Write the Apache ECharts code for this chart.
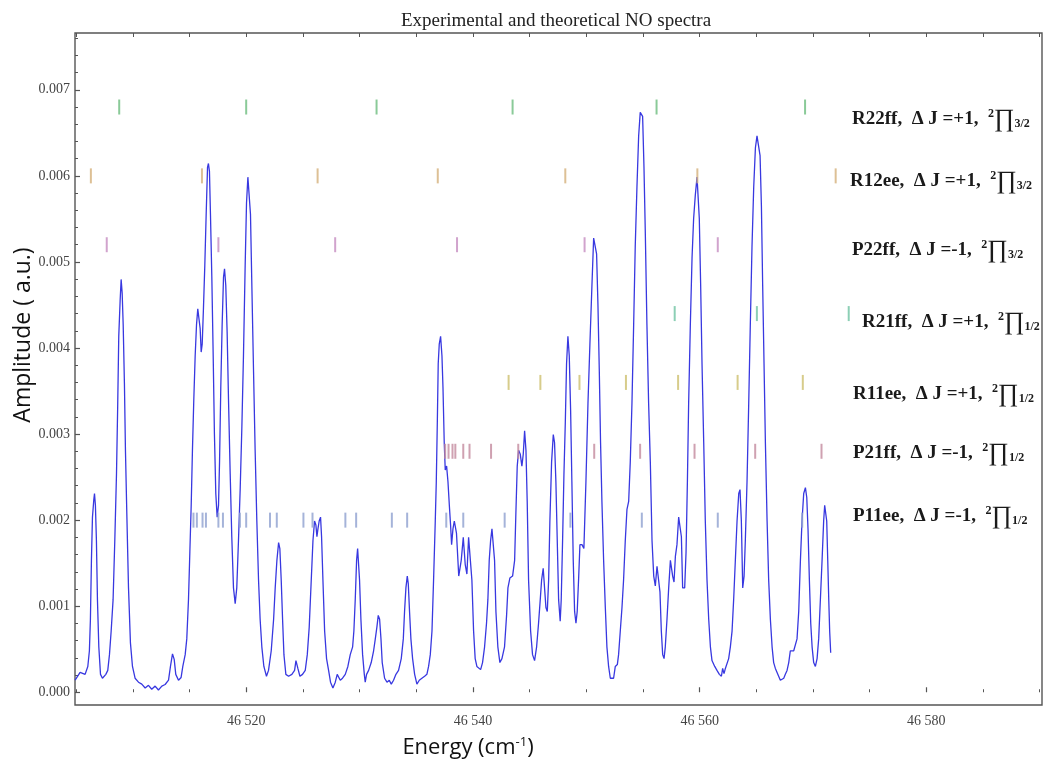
<!DOCTYPE html>
<html>
<head>
<meta charset="utf-8">
<script src="https://cdn.jsdelivr.net/npm/echarts@6/dist/echarts.min.js"></script>
<style>html,body{margin:0;padding:0;background:#fff}#c{width:1047px;height:765px}</style>
</head>
<body>
<div id="c"></div>
<script>
// ---------- DATA ----------
const chartTitle = 'Experimental and theoretical NO spectra';
const xAxisTitle = ['Energy (cm', '-1', ')'];
const yAxisTitle = 'Amplitude ( a.u.)';

const xTickLabels = [46520, 46540, 46560, 46580];
const yTickLabels = [0, 0.001, 0.002, 0.003, 0.004, 0.005, 0.006, 0.007];

// experimental spectrum [energy (cm-1), amplitude (a.u.)]
const spectrumPoints = [
[46504.91,0.000140],[46505.35,0.000231],[46505.79,0.000208],[46506.03,0.000300],[46506.17,0.000482],[46506.26,0.000848],[46506.35,0.001533],[46506.44,0.002035],[46506.56,0.002240],[46506.62,0.002309],[46506.70,0.002172],[46506.79,0.001761],[46506.88,0.001076],[46507.00,0.000528],[46507.15,0.000208],[46507.32,0.000163],[46507.62,0.000208],[46507.79,0.000254],[46507.94,0.000437],[46508.09,0.000711],[46508.26,0.001076],[46508.41,0.001761],[46508.56,0.002537],[46508.67,0.003359],[46508.76,0.004135],[46508.88,0.004546],[46508.97,0.004797],[46509.06,0.004638],[46509.15,0.004272],[46509.26,0.003587],[46509.35,0.002811],[46509.47,0.002081],[46509.62,0.001213],[46509.79,0.000574],[46509.97,0.000300],
[46510.20,0.000163],[46510.50,0.000117],[46510.79,0.000094],[46511.09,0.000049],[46511.38,0.000081],[46511.67,0.000035],[46511.97,0.000072],[46512.26,0.000026],[46512.56,0.000072],[46512.85,0.000090],[46513.15,0.000140],[46513.32,0.000300],[46513.50,0.000446],[46513.65,0.000382],[46513.79,0.000208],[46514.03,0.000140],[46514.26,0.000172],[46514.41,0.000300],[46514.62,0.000437],[46514.76,0.000620],[46514.91,0.001076],
[46515.03,0.001624],[46515.15,0.002172],[46515.26,0.002811],[46515.38,0.003405],[46515.50,0.003907],[46515.62,0.004272],[46515.73,0.004455],[46515.85,0.004432],[46515.94,0.004227],[46516.03,0.003953],[46516.12,0.004044],[46516.23,0.004455],[46516.35,0.004957],[46516.47,0.005551],[46516.59,0.006099],[46516.67,0.006144],[46516.76,0.006053],[46516.85,0.005551],[46516.97,0.004820],[46517.09,0.003907],[46517.20,0.002994],[46517.32,0.002309],[46517.44,0.002035],[46517.56,0.002172],[46517.65,0.002674],[46517.76,0.003542],[46517.88,0.004272],[46518.00,0.004820],[46518.09,0.004921],[46518.20,0.004729],[46518.32,0.004181],[46518.44,0.003405],[46518.59,0.002537],[46518.73,0.001807],[46518.88,0.001213],[46519.03,0.001030],[46519.17,0.001213],[46519.32,0.001761],[46519.47,0.002355],[46519.62,0.003085],[46519.76,0.003907],[46519.91,0.004957],
[46520.03,0.005688],[46520.15,0.005985],[46520.26,0.006007],[46520.38,0.005551],[46520.50,0.004729],[46520.65,0.003724],[46520.79,0.002811],[46520.94,0.001990],[46521.09,0.001305],[46521.23,0.000848],[46521.38,0.000528],[46521.56,0.000300],[46521.79,0.000186],[46521.97,0.000254],[46522.21,0.000482],[46522.42,0.000848],[46522.56,0.001213],[46522.71,0.001533],[46522.86,0.001738],[46522.97,0.001670],[46523.09,0.001304],[46523.21,0.000848],[46523.33,0.000437],[46523.50,0.000208],[46523.74,0.000186],[46524.03,0.000208],[46524.27,0.000254],[46524.39,0.000368],[46524.47,0.000391],[46524.56,0.000277],[46524.74,0.000186],[46524.97,0.000208],
[46525.21,0.000254],[46525.39,0.000437],[46525.56,0.000757],[46525.74,0.001304],[46525.89,0.001761],[46526.03,0.001990],[46526.15,0.001944],[46526.24,0.001807],[46526.33,0.001898],[46526.44,0.001990],[46526.56,0.002035],[46526.65,0.001807],[46526.77,0.001304],[46526.92,0.000711],[46527.09,0.000391],[46527.27,0.000254],[46527.44,0.000117],[46527.65,0.000049],[46527.86,0.000117],[46528.03,0.000208],[46528.15,0.000186],[46528.30,0.000140],[46528.50,0.000163],[46528.74,0.000208],[46528.97,0.000300],[46529.18,0.000437],[46529.39,0.000528],[46529.50,0.000711],[46529.62,0.001076],[46529.74,0.001533],[46529.83,0.001670],[46529.92,0.001647],
[46530.00,0.001304],[46530.12,0.000848],[46530.27,0.000437],[46530.42,0.000208],[46530.50,0.000117],[46530.62,0.000208],[46530.80,0.000254],[46531.03,0.000345],[46531.24,0.000482],[46531.39,0.000620],[46531.53,0.000757],[46531.65,0.000893],[46531.77,0.000848],[46531.89,0.000620],[46532.00,0.000345],[46532.21,0.000163],[46532.42,0.000117],[46532.62,0.000140],[46532.80,0.000094],[46533.00,0.000140],[46533.21,0.000208],[46533.44,0.000254],[46533.68,0.000391],[46533.86,0.000620],[46533.97,0.000939],[46534.09,0.001213],[46534.21,0.001350],[46534.30,0.001259],[46534.41,0.000939],[46534.53,0.000620],[46534.68,0.000391],[46534.86,0.000208],
[46535.06,0.000094],[46535.27,0.000140],[46535.50,0.000163],[46535.74,0.000186],[46535.94,0.000208],[46536.09,0.000300],[46536.24,0.000437],[46536.39,0.000711],[46536.53,0.001304],[46536.68,0.001990],[46536.77,0.002446],[46536.86,0.003131],[46536.94,0.003816],[46537.03,0.004044],[46537.15,0.004135],[46537.27,0.003907],[46537.36,0.003542],[46537.47,0.002902],[46537.56,0.002583],[46537.68,0.002628],[46537.80,0.002446],[46537.92,0.002172],[46538.03,0.001944],[46538.12,0.001715],[46538.24,0.001898],[46538.36,0.001990],[46538.55,0.001850],[46538.75,0.001350],[46538.97,0.001533],[46539.15,0.001800],[46539.32,0.001487],[46539.47,0.001373],[46539.62,0.001800],[46539.76,0.001800],[46539.91,0.001304],
[46540.06,0.000711],[46540.20,0.000391],[46540.35,0.000300],[46540.50,0.000277],[46540.68,0.000263],[46540.85,0.000345],[46541.03,0.000528],[46541.20,0.000802],[46541.32,0.001076],[46541.44,0.001533],[46541.56,0.001761],[46541.68,0.001898],[46541.79,0.001921],[46541.91,0.001533],[46542.03,0.000939],[46542.20,0.000528],[46542.38,0.000345],[46542.56,0.000391],[46542.79,0.000528],[46542.97,0.000893],[46543.09,0.001213],[46543.26,0.001327],[46543.50,0.001350],[46543.68,0.001533],[46543.79,0.002081],[46543.91,0.002628],[46544.03,0.002811],[46544.18,0.002765],[46544.32,0.002628],[46544.44,0.002765],[46544.56,0.003039],[46544.68,0.002811],[46544.79,0.002217],[46544.91,0.001304],
[46545.09,0.000711],[46545.26,0.000437],[46545.44,0.000368],[46545.62,0.000528],[46545.79,0.000802],[46545.94,0.001076],[46546.06,0.001304],[46546.20,0.001441],[46546.32,0.001213],[46546.44,0.000985],[46546.56,0.000939],[46546.68,0.001304],[46546.79,0.001990],[46546.94,0.002674],[46547.09,0.002994],[46547.20,0.002902],[46547.32,0.002446],[46547.44,0.001761],[46547.56,0.001076],[46547.70,0.000825],[46547.79,0.001076],[46547.91,0.001761],[46548.03,0.002537],[46548.15,0.003131],[46548.26,0.003816],[46548.38,0.004135],[46548.50,0.003907],[46548.62,0.003268],[46548.73,0.002446],[46548.85,0.001533],[46548.97,0.000939],[46549.09,0.000802],[46549.20,0.000939],[46549.32,0.001304],[46549.44,0.001715],[46549.62,0.001715],[46549.79,0.001670],[46549.97,0.002446],
[46550.15,0.003359],[46550.32,0.004044],[46550.50,0.004729],[46550.65,0.005277],[46550.79,0.005277],[46550.91,0.005094],[46551.03,0.004501],[46551.15,0.003724],[46551.26,0.002902],[46551.38,0.002217],[46551.53,0.001533],[46551.68,0.000985],[46551.82,0.000528],[46551.97,0.000300],[46552.12,0.000163],[46552.26,0.000172],[46552.41,0.000163],[46552.56,0.000300],[46552.74,0.000322],[46552.85,0.000437],[46553.00,0.000711],[46553.15,0.000985],[46553.29,0.001304],[46553.44,0.001761],[46553.59,0.002126],[46553.74,0.002217],[46553.88,0.002674],[46554.03,0.003359],[46554.18,0.004272],[46554.32,0.005185],[46554.47,0.005870],[46554.62,0.006464],[46554.76,0.006738],[46554.85,0.006761],[46554.97,0.006692],
[46555.09,0.006099],[46555.21,0.005322],[46555.35,0.004272],[46555.50,0.003359],[46555.65,0.002674],[46555.80,0.001761],[46555.95,0.001350],[46556.09,0.001236],[46556.24,0.001464],[46556.39,0.001441],[46556.50,0.001167],[46556.62,0.000711],[46556.74,0.000437],[46556.86,0.000391],[46556.97,0.000528],[46557.12,0.000848],[46557.27,0.001213],[46557.42,0.001533],[46557.50,0.001555],[46557.62,0.001350],[46557.74,0.001281],[46557.86,0.001578],[46558.00,0.001715],[46558.15,0.002035],[46558.27,0.002012],[46558.39,0.001807],[46558.50,0.001213],[46558.68,0.001213],[46558.80,0.001624],[46558.92,0.002446],[46559.03,0.003359],[46559.18,0.004272],[46559.33,0.005049],[46559.47,0.005505],[46559.62,0.005779],[46559.77,0.005985],[46559.86,0.005962],[46559.97,0.005505],
[46560.09,0.004729],[46560.21,0.003816],[46560.36,0.002902],[46560.50,0.001990],[46560.65,0.001304],[46560.80,0.000848],[46560.95,0.000528],[46561.09,0.000368],[46561.33,0.000300],[46561.53,0.000254],[46561.74,0.000208],[46561.92,0.000186],[46562.03,0.000277],[46562.15,0.000217],[46562.27,0.000277],[46562.42,0.000300],[46562.56,0.000391],[46562.71,0.000528],[46562.86,0.000711],[46563.00,0.001076],[46563.15,0.001533],[46563.30,0.001990],[46563.45,0.002309],[46563.56,0.002355],[46563.68,0.001990],[46563.80,0.001213],[46563.92,0.001350],[46564.03,0.001761],[46564.18,0.002446],[46564.33,0.003359],[46564.47,0.004272],[46564.62,0.005185],[46564.77,0.005870],[46564.92,0.006327],
[46565.06,0.006464],[46565.21,0.006487],[46565.33,0.006236],[46565.45,0.005642],[46565.56,0.004729],[46565.68,0.003816],[46565.80,0.002902],[46565.95,0.001990],[46566.09,0.001304],[46566.24,0.000848],[46566.39,0.000528],[46566.53,0.000345],[46566.68,0.000277],[46566.83,0.000254],[46566.97,0.000186],[46567.12,0.000140],[46567.27,0.000117],[46567.42,0.000163],[46567.56,0.000208],[46567.71,0.000254],[46567.86,0.000345],[46568.00,0.000482],[46568.15,0.000505],[46568.30,0.000482],[46568.45,0.000482],[46568.59,0.000620],[46568.74,0.000939],[46568.89,0.001533],[46569.03,0.001990],[46569.18,0.002309],[46569.33,0.002377],[46569.45,0.002263],[46569.56,0.001898],[46569.68,0.001304],[46569.80,0.000802],[46569.92,0.000528],
[46570.06,0.000345],[46570.21,0.000300],[46570.36,0.000391],[46570.50,0.000620],[46570.65,0.001076],[46570.80,0.001533],[46570.94,0.001990],[46571.03,0.002172],[46571.12,0.002195],[46571.21,0.001990],[46571.30,0.001533],[46571.39,0.001076],[46571.47,0.000711],[46571.56,0.000460]
];

// theoretical line positions (cm-1) for each branch
const branchNames = ['R22ff', 'R12ee', 'P22ff', 'R21ff', 'R11ee', 'P21ff', 'P11ee'];
const branchDeltaJ = ['+1', '+1', '-1', '+1', '+1', '-1', '-1'];
const branchOmega = ['3/2', '3/2', '3/2', '1/2', '1/2', '1/2', '1/2'];
const branchRowLevel = [0.0068, 0.0060, 0.0052, 0.0044, 0.0036, 0.0028, 0.0020];
const linesR22ff = [46508.8, 46520.0, 46531.5, 46543.5, 46556.2, 46569.3];
const linesR12ee = [46506.3, 46516.1, 46526.3, 46536.9, 46548.15, 46559.8, 46572.0];
const linesP22ff = [46507.7, 46517.55, 46527.85, 46538.6, 46549.85, 46561.6];
const linesR21ff = [46557.8, 46565.05, 46573.15];
const linesR11ee = [46543.15, 46545.95, 46549.4, 46553.5, 46558.1, 46563.35, 46569.1];
const linesP21ff = [46537.55, 46537.85, 46538.2, 46538.45, 46539.15, 46539.7, 46541.6, 46544.0, 46550.7, 46554.75, 46559.55, 46564.9, 46570.75];
const linesP11ee = [46515.35, 46515.65, 46516.15, 46516.45, 46517.55, 46517.95, 46519.45, 46520.0, 46522.1, 46522.7, 46525.05, 46525.85, 46528.75, 46529.7, 46532.85, 46534.2, 46537.65, 46539.15, 46542.8, 46548.6, 46554.9, 46561.6, 46569.05];

// ---------- STYLE / LAYOUT ----------
const branchLines = [linesR22ff, linesR12ee, linesP22ff, linesR21ff, linesR11ee, linesP21ff, linesP11ee];
const branchColors = ['#6dbd7e', '#d5b07a', '#c58cc0', '#6fc3a2', '#cdbf6e', '#c38a9e', '#8fa0cf'];
const labelPos = [[852, 119], [850, 181], [852, 250], [862, 322], [853, 394], [853, 453], [853, 516]];

const X_MIN = 46504.9, X_MAX = 46590.2;
const Y_MIN = -0.000148, Y_MAX = 0.00766;

const xMinor = [];
for (let v = 46505; v <= 46590; v += 5) if (xTickLabels.indexOf(v) < 0) xMinor.push(v);
const xAll = [];
for (let v = 46505; v <= 46590; v += 5) xAll.push(v);
const yMinor = [];
for (let k = 0; k <= 38; k++) { if (k % 5 !== 0) yMinor.push(+(k * 0.0002).toFixed(4)); }

const axisColor = '#555';
const serif = '"Liberation Serif", "Times New Roman", serif';

function xFmt(v) { const s = String(Math.round(v)); return s.slice(0, 2) + ' ' + s.slice(2); }

const baseX = { type: 'value', min: X_MIN, max: X_MAX, splitLine: { show: false }, axisLine: { show: false } };
const baseY = { type: 'value', min: Y_MIN, max: Y_MAX, splitLine: { show: false }, axisLine: { show: false } };

const series = [{
  type: 'line', data: spectrumPoints, showSymbol: false, symbol: 'none',
  lineStyle: { color: '#3838e0', width: 1.3 }, z: 2, silent: true
}];
branchLines.forEach((arr, i) => {
  series.push({
    type: 'scatter', name: branchNames[i], silent: true, z: 3,
    symbol: 'rect', symbolSize: [2, 15],
    itemStyle: { color: branchColors[i] },
    data: arr.map(e => [e, branchRowLevel[i]])
  });
});

const graphics = [
  { type: 'text', x: 556, y: 21, style: { text: chartTitle, font: '19px ' + serif, fill: '#222', textAlign: 'center', align: 'center', textVerticalAlign: 'middle', verticalAlign: 'middle' } },
  { type: 'text', x: 23, y: 335, rotation: Math.PI / 2, style: { text: yAxisTitle, font: '23px "Open Sans", sans-serif', fill: '#111', textAlign: 'center', align: 'center', textVerticalAlign: 'middle', verticalAlign: 'middle' } },
  { type: 'text', x: 468, y: 748, style: {
      text: '{n|' + xAxisTitle[0] + '}{s|' + xAxisTitle[1] + '}{n|' + xAxisTitle[2] + '}',
      textAlign: 'center', align: 'center', textVerticalAlign: 'middle', verticalAlign: 'middle',
      rich: {
        n: { fontSize: 22, fontFamily: '"Open Sans", sans-serif', fill: '#111' },
        s: { fontSize: 13, fontFamily: '"Open Sans", sans-serif', fill: '#111', padding: [0, 0, 12, 0] }
      } } }
];
branchNames.forEach((nm, i) => {
  graphics.push({
    type: 'text', x: labelPos[i][0], y: labelPos[i][1],
    style: {
      text: '{b|' + nm + ',  Δ J =' + branchDeltaJ[i] + ',  }{sup|2}{pi|∏}{sub|' + branchOmega[i] + '}',
      textAlign: 'left', align: 'left', textVerticalAlign: 'middle', verticalAlign: 'middle',
      rich: {
        b: { fontSize: 19, fontWeight: 'bold', fontFamily: serif, fill: '#1a1a1a' },
        sup: { fontSize: 12, fontWeight: 'bold', fontFamily: serif, fill: '#1a1a1a', padding: [0, 0, 11, 0] },
        pi: { fontSize: 25, fontFamily: serif, fill: '#1a1a1a' },
        sub: { fontSize: 12, fontWeight: 'bold', fontFamily: serif, fill: '#1a1a1a', padding: [10, 0, 0, 0] }
      }
    }
  });
});

const option = {
  animation: false,
  backgroundColor: '#ffffff',
  grid: { left: 75, right: 5, top: 33, bottom: 60, show: true, borderColor: axisColor, borderWidth: 1.4, backgroundColor: 'transparent' },
  xAxis: [
    Object.assign({}, baseX, { position: 'bottom',
      axisTick: { show: true, inside: true, length: 5, customValues: xTickLabels, lineStyle: { color: axisColor, width: 1.2 } },
      axisLabel: { show: true, customValues: xTickLabels, formatter: xFmt, fontFamily: serif, fontSize: 14, color: '#444', margin: 9 } }),
    Object.assign({}, baseX, { position: 'bottom',
      axisTick: { show: true, inside: true, length: 3, customValues: xMinor, lineStyle: { color: axisColor, width: 1 } },
      axisLabel: { show: false } }),
    Object.assign({}, baseX, { position: 'top',
      axisTick: { show: true, inside: true, length: 4, customValues: xAll, lineStyle: { color: axisColor, width: 1 } },
      axisLabel: { show: false } })
  ],
  yAxis: [
    Object.assign({}, baseY, { position: 'left',
      axisTick: { show: true, inside: true, length: 5, customValues: yTickLabels, lineStyle: { color: axisColor, width: 1.2 } },
      axisLabel: { show: true, customValues: yTickLabels, formatter: v => v.toFixed(3), fontFamily: serif, fontSize: 14, color: '#444', margin: 5 } }),
    Object.assign({}, baseY, { position: 'left',
      axisTick: { show: true, inside: true, length: 3, customValues: yMinor, lineStyle: { color: axisColor, width: 1 } },
      axisLabel: { show: false } })
  ],
  series: series,
  graphic: graphics
};

const chart = echarts.init(document.getElementById('c'), null, { renderer: 'canvas' });
chart.setOption(option);
</script>
</body>
</html>
